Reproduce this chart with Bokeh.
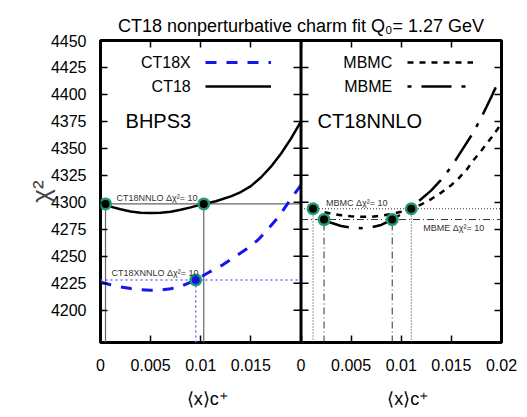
from bokeh.plotting import figure
from bokeh.models import (Range1d, LinearAxis, FixedTicker, Label, Legend, LegendItem, Span)
from bokeh.embed import file_html
from bokeh.resources import INLINE
from bokeh.core.properties import value

FONT = "Liberation Sans"

# ---------------- data ----------------
Y_MIN, Y_MAX = 4170, 4450
PANEL = 0.02
y_ticks = [4200, 4225, 4250, 4275, 4300, 4325, 4350, 4375, 4400, 4425, 4450]
left_x_ticks = [0, 0.005, 0.01, 0.015]
left_x_labels = ["0", "0.005", "0.01", "0.015"]
right_x_ticks = [0, 0.005, 0.01, 0.015, 0.02]
right_x_labels = ["0", "0.005", "0.01", "0.015", "0.02"]
x_title = "\u27e8x\u27e9c\u207a"

# left panel: BHPS3
ct18_x = [0, 0.001, 0.002, 0.003, 0.004, 0.005, 0.006, 0.007, 0.008, 0.009, 0.0103,
          0.0115, 0.013, 0.014, 0.015, 0.016, 0.017, 0.018, 0.019, 0.02]
ct18_y = [4299, 4296, 4293.5, 4291.5, 4290.3, 4290, 4290.3, 4291.3, 4293, 4295.3, 4298.5,
          4301, 4305.5, 4309.5, 4315, 4323, 4333, 4345, 4359, 4375]
ct18x_x = [0, 0.001, 0.002, 0.003, 0.004, 0.005, 0.006, 0.007, 0.008, 0.0095, 0.011,
           0.0122, 0.0135, 0.0146, 0.0157, 0.0166, 0.0178, 0.0189, 0.02]
ct18x_y = [4226, 4223.5, 4221.5, 4220, 4219, 4218.5, 4218.7, 4219.8, 4222, 4228, 4236,
           4242, 4250, 4257, 4265, 4274, 4287, 4302, 4316]

# right panel: CT18NNLO
mbmc_x = [0.0012, 0.002, 0.003, 0.004, 0.005, 0.006, 0.007, 0.008, 0.009, 0.01, 0.011,
          0.012, 0.013, 0.014, 0.015, 0.0156, 0.0165, 0.0172, 0.018, 0.019, 0.02]
mbmc_y = [4294, 4291.5, 4289.5, 4288, 4287, 4286.5, 4286.6, 4287.5, 4289, 4291.3, 4294,
          4298, 4303, 4309, 4316, 4321, 4330, 4339, 4348, 4360, 4373]
mbme_x = [0.0008, 0.0015, 0.0023, 0.003, 0.004, 0.005, 0.006, 0.007, 0.008, 0.0091, 0.01,
          0.011, 0.012, 0.013, 0.0139, 0.015, 0.0159, 0.017, 0.0179, 0.019, 0.0197]
mbme_y = [4293, 4288, 4284, 4281, 4278, 4276.5, 4276, 4276.8, 4279, 4284, 4289,
          4296, 4303, 4311, 4320, 4333, 4346, 4362, 4377, 4398, 4412]

# delta chi^2 = 10 crossing points
ct18_pts_x = [0.0005, 0.0103]
ct18_pts_y = [4298.5, 4298.5]
ct18x_pts_x = [0.0095]
ct18x_pts_y = [4228]
mbmc_pts_x = [0.0012, 0.011]
mbmc_pts_y = [4294, 4294]
mbme_pts_x = [0.0023, 0.0091]
mbme_pts_y = [4284, 4284]

# ---------------- figure ----------------
p = figure(width=527, height=417, output_backend="svg", toolbar_location=None,
           x_range=Range1d(0, 2 * PANEL), y_range=Range1d(Y_MIN, Y_MAX),
           min_border_left=100, min_border_right=26, min_border_top=40, min_border_bottom=75,
           x_axis_type=None, y_axis_type=None)
p.extra_x_ranges = {"right": Range1d(-PANEL, PANEL)}
p.grid.visible = False
p.outline_line_color = "black"
p.outline_line_width = 3
p.background_fill_color = "white"
p.border_fill_color = "white"

p.title.text = "CT18 nonperturbative charm fit Q\u2080= 1.27 GeV"
p.title.align = "center"
p.title.text_font = FONT
p.title.text_font_size = "18px"
p.title.text_font_style = "normal"
p.title.text_color = "black"

all_x_ticks = left_x_ticks + [round(PANEL + t, 6) for t in right_x_ticks]
all_x_labels = left_x_labels + right_x_labels
x_overrides = {t: l for t, l in zip(all_x_ticks, all_x_labels)}


def style_axis(ax):
    ax.axis_line_color = None
    ax.major_tick_in = 7
    ax.major_tick_out = 0
    ax.major_tick_line_width = 1.5
    ax.major_tick_line_color = "black"
    ax.minor_tick_line_color = None
    ax.major_label_text_font = FONT
    ax.major_label_text_font_size = "16px"
    ax.major_label_text_color = "black"


xb = LinearAxis(ticker=FixedTicker(ticks=all_x_ticks), major_label_overrides=x_overrides)
style_axis(xb)
xb.major_label_standoff = 16
p.add_layout(xb, "below")

# second row under the tick labels: the x-axis title of each panel
centers = [round(0.535 * PANEL, 6), round(1.535 * PANEL, 6)]
xb2 = LinearAxis(ticker=FixedTicker(ticks=centers),
                 major_label_overrides={c: x_title for c in centers})
style_axis(xb2)
xb2.major_tick_in = 0
xb2.major_tick_line_color = None
xb2.major_label_text_font_size = "18px"
xb2.major_label_standoff = 15
p.add_layout(xb2, "below")

xt = LinearAxis(ticker=FixedTicker(ticks=all_x_ticks),
                major_label_overrides={t: "" for t in all_x_ticks})
style_axis(xt)
p.add_layout(xt, "above")

yl = LinearAxis(ticker=FixedTicker(ticks=y_ticks), axis_label="\u03c7\u00b2")
style_axis(yl)
yl.major_label_standoff = 14
yl.axis_label_text_font = FONT
yl.axis_label_text_font_size = "26px"
yl.axis_label_text_font_style = "normal"
yl.axis_label_standoff = -8
p.add_layout(yl, "left")

yr = LinearAxis(ticker=FixedTicker(ticks=y_ticks),
                major_label_overrides={t: "" for t in y_ticks})
style_axis(yr)
p.add_layout(yr, "right")

# panel divider with ticks on both sides
p.add_layout(Span(location=PANEL, dimension="height", line_color="black", line_width=3))
p.scatter(x=[PANEL] * (len(y_ticks) - 1), y=y_ticks[:-1], marker="dash", size=15,
          line_color="black", line_width=1.5)

GREEN = "#1f9a74"

# ---- left panel reference lines ----
p.segment(x0=[0], y0=[ct18_pts_y[0]], x1=[PANEL], y1=[ct18_pts_y[0]],
          line_color="#666666", line_width=1.2)
p.segment(x0=ct18_pts_x, y0=[Y_MIN] * len(ct18_pts_x), x1=ct18_pts_x, y1=ct18_pts_y,
          line_color="#666666", line_width=1.2)
p.segment(x0=[0], y0=ct18x_pts_y, x1=[PANEL], y1=ct18x_pts_y,
          line_color="#6b6bff", line_width=1.5, line_dash="2 3")
p.segment(x0=ct18x_pts_x, y0=[Y_MIN] * len(ct18x_pts_x), x1=ct18x_pts_x, y1=ct18x_pts_y,
          line_color="#6b6bff", line_width=1.5, line_dash="2 3")

r_ct18 = p.line(ct18_x, ct18_y, line_color="black", line_width=2.5)
r_ct18x = p.line(ct18x_x, ct18x_y, line_color="#1515f0", line_width=3, line_dash="11 10")

p.scatter(ct18_pts_x, ct18_pts_y, size=13, fill_color=GREEN, line_color=None)
p.scatter(ct18_pts_x, ct18_pts_y, size=8, fill_color="black", line_color=None)
p.scatter(ct18x_pts_x, ct18x_pts_y, size=13, fill_color=GREEN, line_color=None)
p.scatter(ct18x_pts_x, ct18x_pts_y, size=8, fill_color="#1010ee", line_color=None)

# ---- right panel reference lines ----
R = "right"
p.segment(x0=[0], y0=[mbmc_pts_y[0]], x1=[PANEL], y1=[mbmc_pts_y[0]], x_range_name=R,
          line_color="#333333", line_width=1, line_dash="1 2")
p.segment(x0=mbmc_pts_x, y0=[Y_MIN] * len(mbmc_pts_x), x1=mbmc_pts_x, y1=mbmc_pts_y,
          x_range_name=R, line_color="#333333", line_width=1, line_dash="1 2")
p.segment(x0=[0], y0=[mbme_pts_y[0]], x1=[PANEL], y1=[mbme_pts_y[0]], x_range_name=R,
          line_color="#333333", line_width=1, line_dash="7 3 1 3")
p.segment(x0=mbme_pts_x, y0=[Y_MIN] * len(mbme_pts_x), x1=mbme_pts_x, y1=mbme_pts_y,
          x_range_name=R, line_color="#333333", line_width=1, line_dash="7 3 1 3")

r_mbmc = p.line(mbmc_x, mbmc_y, x_range_name=R, line_color="black", line_width=2.5,
                line_dash="6 6")
r_mbme = p.line(mbme_x, mbme_y, x_range_name=R, line_color="black", line_width=2.5,
                line_dash="4 10 30 10")

for xs, ys in ((mbmc_pts_x, mbmc_pts_y), (mbme_pts_x, mbme_pts_y)):
    p.scatter(xs, ys, x_range_name=R, size=13, fill_color=GREEN, line_color=None)
    p.scatter(xs, ys, x_range_name=R, size=8, fill_color="black", line_color=None)

# ---- legends (line samples), texts placed to their left ----
def make_legend(items, loc):
    lg = Legend(items=items, location=loc, orientation="vertical",
                glyph_width=66, glyph_height=20, label_height=20, label_width=0,
                label_standoff=0, spacing=4, padding=0, margin=0,
                background_fill_alpha=0, border_line_color=None,
                label_text_font_size="1px")
    p.add_layout(lg)


make_legend([LegendItem(label=value(""), renderers=[r_ct18x]),
             LegendItem(label=value(""), renderers=[r_ct18])], (105, 246))
make_legend([LegendItem(label=value(""), renderers=[r_mbmc]),
             LegendItem(label=value(""), renderers=[r_mbme])], (307, 246))


def add_text(x, y, text, size, align="left", rng="default", color="black", **kw):
    lab = Label(x=x, y=y, text=text, text_font=FONT, text_font_size=size,
                text_align=align, text_baseline="middle", text_color=color,
                x_range_name=rng, **kw)
    p.add_layout(lab)


add_text(0.0090, 4429.6, "CT18X", "16px", align="right")
add_text(0.0090, 4407.3, "CT18", "16px", align="right")
add_text(0.0025, 4375.8, "BHPS3", "20px")
add_text(0.0091, 4429.6, "MBMC", "16px", align="right", rng=R)
add_text(0.0091, 4407.3, "MBME", "16px", align="right", rng=R)
add_text(0.00165, 4375.8, "CT18NNLO", "20px", rng=R)

add_text(0.0016, 4304.4, "CT18NNLO \u0394\u03c7\u00b2= 10", "9px", color="#333333")
add_text(0.0011, 4234.9, "CT18XNNLO \u0394\u03c7\u00b2= 10", "9px", color="#333333")
add_text(0.0025, 4299.8, "MBMC \u0394\u03c7\u00b2= 10", "9px", rng=R, color="#333333")
add_text(0.0122, 4276.6, "MBME \u0394\u03c7\u00b2= 10", "9px", rng=R, color="#333333")

open("out.html", "w").write(file_html(p, INLINE))
